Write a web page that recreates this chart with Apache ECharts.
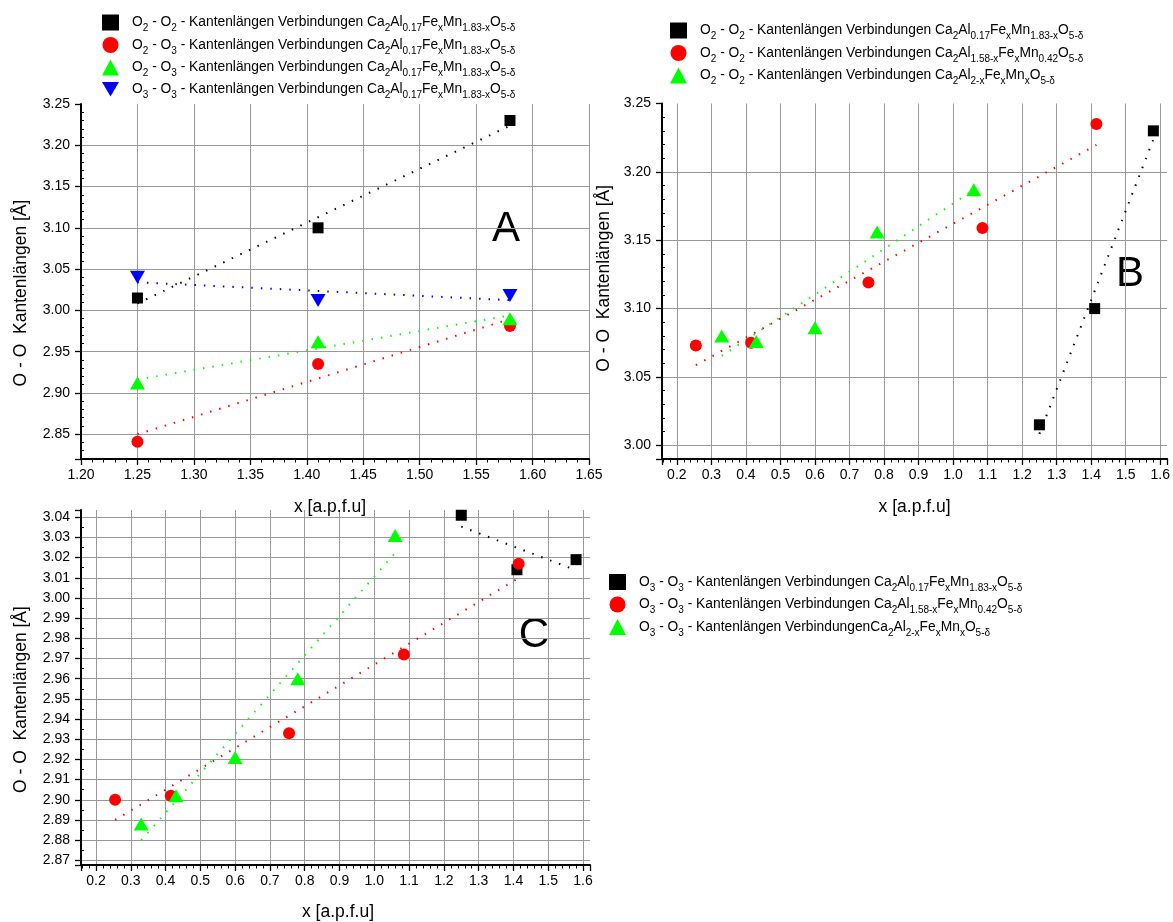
<!DOCTYPE html>
<html>
<head>
<meta charset="utf-8">
<script src="https://cdn.jsdelivr.net/npm/echarts@6/dist/echarts.min.js"></script>
<style>
html, body { margin: 0; padding: 0; background: #ffffff; }
#chart { width: 1173px; height: 922px; }
</style>
</head>
<body>
<div id="chart"></div>
<script>
// x positions (a.p.f.u) of the three compound series
const X_AL017 = [1.25, 1.41, 1.58];
const X_MN042 = [0.255, 0.415, 0.755, 1.085, 1.415];
const X_ALMN = [0.33, 0.43, 0.60, 0.78, 1.06];

// Panel A: edge lengths [Å] in Ca2Al0.17FexMn1.83-xO5-δ
const A_O2O2 = [3.015, 3.100, 3.230];
const A_O2O3_I = [2.841, 2.935, 2.981];
const A_O2O3_II = [2.912, 2.962, 2.990];
const A_O3O3 = [3.040, 3.012, 3.018];

// Panel B: O2 - O2 edge lengths [Å]
const B_AL017 = [3.015, 3.100, 3.230];
const B_MN042 = [3.073, 3.075, 3.119, 3.159, 3.235];
const B_ALMN = [3.080, 3.076, 3.086, 3.156, 3.187];

// Panel C: O3 - O3 edge lengths [Å]
const C_AL017 = [3.041, 3.014, 3.019];
const C_MN042 = [2.900, 2.902, 2.933, 2.972, 3.017];
const C_ALMN = [2.888, 2.902, 2.921, 2.960, 3.031];

// Legend texts; _{...} marks a subscript
const LABELS = {
  A1: 'O_{2} - O_{2} - Kantenlängen Verbindungen Ca_{2}Al_{0.17}Fe_{x}Mn_{1.83-x}O_{5-δ}',
  A2: 'O_{2} - O_{3} - Kantenlängen Verbindungen Ca_{2}Al_{0.17}Fe_{x}Mn_{1.83-x}O_{5-δ}',
  A3: 'O_{2} - O_{3} - Kantenlängen Verbindungen Ca_{2}Al_{0.17}Fe_{x}Mn_{1.83-x}O_{5-δ}',
  A4: 'O_{3} - O_{3} - Kantenlängen Verbindungen Ca_{2}Al_{0.17}Fe_{x}Mn_{1.83-x}O_{5-δ}',
  B1: 'O_{2} - O_{2} - Kantenlängen Verbindungen Ca_{2}Al_{0.17}Fe_{x}Mn_{1.83-x}O_{5-δ}',
  B2: 'O_{2} - O_{2} - Kantenlängen Verbindungen Ca_{2}Al_{1.58-x}Fe_{x}Mn_{0.42}O_{5-δ}',
  B3: 'O_{2} - O_{2} - Kantenlängen Verbindungen Ca_{2}Al_{2-x}Fe_{x}Mn_{x}O_{5-δ}',
  C1: 'O_{3} - O_{3} - Kantenlängen Verbindungen Ca_{2}Al_{0.17}Fe_{x}Mn_{1.83-x}O_{5-δ}',
  C2: 'O_{3} - O_{3} - Kantenlängen Verbindungen Ca_{2}Al_{1.58-x}Fe_{x}Mn_{0.42}O_{5-δ}',
  C3: 'O_{3} - O_{3} - Kantenlängen VerbindungenCa_{2}Al_{2-x}Fe_{x}Mn_{x}O_{5-δ}'
};

const X_NAME = 'x [a.p.f.u]';
const Y_NAME = 'O - O  Kantenlängen [Å]';

const FONT = '"Liberation Sans", Arial, sans-serif';
const BLACK = '#000000', RED = '#ff0000', GREEN = '#00ff00', BLUE = '#0000ff';

// downward pointing triangle for legend icons
const DOWN_TRIANGLE = 'path://M0,0L2,0L1,1.7Z';

function toRich(s) {
  return s.split(/_\{([^}]*)\}/).map(function (part, i) {
    if (part === '') return '';
    return i % 2 ? '{s|' + part + '}' : '{n|' + part + '}';
  }).join('');
}

function onStep(v, step) {
  const k = v / step;
  return Math.abs(k - Math.round(k)) < 1e-6;
}

function pairs(xs, ys) {
  return xs.map(function (x, i) { return [x, ys[i]]; });
}

// least-squares straight line through a series, drawn over its x range
function fitLine(xs, ys) {
  const n = xs.length;
  const mx = xs.reduce(function (a, b) { return a + b; }, 0) / n;
  const my = ys.reduce(function (a, b) { return a + b; }, 0) / n;
  let sxx = 0, sxy = 0;
  for (let i = 0; i < n; i++) {
    sxx += (xs[i] - mx) * (xs[i] - mx);
    sxy += (xs[i] - mx) * (ys[i] - my);
  }
  const k = sxy / sxx;
  const x0 = Math.min.apply(null, xs), x1 = Math.max.apply(null, xs);
  return [[x0, my + k * (x0 - mx)], [x1, my + k * (x1 - mx)]];
}

const SYM = {
  square: { symbol: 'rect', size: 11, rotate: 0 },
  circle: { symbol: 'circle', size: 12, rotate: 0 },
  up: { symbol: 'triangle', size: [15, 13], rotate: 0 },
  down: { symbol: 'triangle', size: [15, 13], rotate: 180 }
};

function scatter(name, g, xs, ys, shape, color) {
  const s = SYM[shape];
  return {
    type: 'scatter', name: name, xAxisIndex: g, yAxisIndex: g,
    data: pairs(xs, ys), symbol: s.symbol, symbolSize: s.size, symbolRotate: s.rotate,
    itemStyle: { color: color, opacity: 1 }, z: 3,
    emphasis: { disabled: true }, silent: true
  };
}

function fit(g, xs, ys, color) {
  return {
    type: 'line', xAxisIndex: g, yAxisIndex: g, data: fitLine(xs, ys),
    symbol: 'none', showSymbol: false, z: 2, silent: true,
    lineStyle: { color: color, width: 2, type: [1.5, 8] },
    emphasis: { disabled: true }
  };
}

function axis(isX, o) {
  return {
    type: 'value', gridIndex: o.grid, position: isX ? 'bottom' : 'left',
    min: o.min, max: o.max, minInterval: o.step, maxInterval: o.step,
    splitNumber: Math.round((o.max - o.min) / o.step),
    name: o.name, nameLocation: 'middle', nameGap: o.nameGap,
    nameTextStyle: { fontSize: 17.5, fontFamily: FONT, color: '#000', padding: o.namePad || 0 },
    axisLine: { show: true, onZero: false, lineStyle: { color: '#000', width: 2 } },
    axisTick: { show: true, inside: false, length: 6, lineStyle: { color: '#000', width: 1.3 } },
    minorTick: { show: true, splitNumber: o.minor, length: isX ? 3.5 : -3, lineStyle: { color: '#000', width: 1 } },
    axisLabel: {
      fontSize: 14, fontFamily: FONT, color: '#000', margin: isX ? 9 : 11,
      hideOverlap: false, showMinLabel: true, showMaxLabel: true,
      formatter: function (v) { return onStep(v, o.step) ? v.toFixed(o.dec) : ''; }
    },
    splitLine: { show: true, showMinLine: false, showMaxLine: !!o.maxLine,
      lineStyle: { color: '#999999', width: 1 } },
    minorSplitLine: { show: false }
  };
}

function legend(items, left, top) {
  return {
    orient: 'vertical', left: left, top: top, padding: 0, itemGap: 3.5,
    itemWidth: 17, itemHeight: 16, selectedMode: false, data: items,
    formatter: function (n) { return toRich(LABELS[n]); },
    textStyle: {
      padding: [0, 0, 0, 8],
      rich: {
        n: { fontSize: 13.8, fontFamily: FONT, color: '#000', lineHeight: 22, verticalAlign: 'middle' },
        s: { fontSize: 10, fontFamily: FONT, color: '#000', lineHeight: 10, verticalAlign: 'bottom' }
      }
    }
  };
}

function letter(ch, x, y) {
  return {
    type: 'text', x: x, y: y, silent: true,
    style: { text: ch, fontSize: 42, fontFamily: FONT, fill: '#000', align: 'center', verticalAlign: 'middle' }
  };
}

const option = {
  backgroundColor: '#ffffff',
  animation: false,
  grid: [
    { left: 81, top: 104, width: 508, height: 355 },
    { left: 662, top: 103.5, width: 508, height: 355.5 },
    { left: 81, top: 510, width: 509, height: 355.7 }
  ],
  xAxis: [
    axis(true, { grid: 0, min: 1.20, max: 1.65, step: 0.05, minor: 5, dec: 2, maxLine: true,
      name: X_NAME, nameGap: 39.5, namePad: [0, 10, 0, 0] }),
    axis(true, { grid: 1, min: 0.157, max: 1.62, step: 0.1, minor: 5, dec: 1,
      name: X_NAME, nameGap: 39 }),
    axis(true, { grid: 2, min: 0.157, max: 1.62, step: 0.1, minor: 5, dec: 1,
      name: X_NAME, nameGap: 38, namePad: [0, 0, 0, 5] })
  ],
  yAxis: [
    axis(false, { grid: 0, min: 2.82, max: 3.25, step: 0.05, minor: 5, dec: 2,
      name: Y_NAME, nameGap: 51, namePad: [0, 23, 0, 0] }),
    axis(false, { grid: 1, min: 2.99, max: 3.25, step: 0.05, minor: 5, dec: 2,
      name: Y_NAME, nameGap: 49, namePad: [0, 0, 0, 6] }),
    axis(false, { grid: 2, min: 2.8677, max: 3.0436, step: 0.01, minor: 2, dec: 2,
      name: Y_NAME, nameGap: 50.5, namePad: [0, 24, 0, 0] })
  ],
  legend: [
    legend(['A1', 'A2', 'A3', { name: 'A4', icon: DOWN_TRIANGLE }], 102, 14.5),
    legend(['B1', 'B2', 'B3'], 670, 22.5),
    legend(['C1', 'C2', 'C3'], 609, 574)
  ],
  graphic: [
    letter('A', 506, 229),
    letter('B', 1130, 274),
    letter('C', 534, 635)
  ],
  series: [
    fit(0, X_AL017, A_O2O2, BLACK),
    fit(0, X_AL017, A_O2O3_I, RED),
    fit(0, X_AL017, A_O2O3_II, GREEN),
    fit(0, X_AL017, A_O3O3, BLUE),
    scatter('A1', 0, X_AL017, A_O2O2, 'square', BLACK),
    scatter('A2', 0, X_AL017, A_O2O3_I, 'circle', RED),
    scatter('A3', 0, X_AL017, A_O2O3_II, 'up', GREEN),
    scatter('A4', 0, X_AL017, A_O3O3, 'down', BLUE),

    fit(1, X_AL017, B_AL017, BLACK),
    fit(1, X_MN042, B_MN042, RED),
    fit(1, X_ALMN, B_ALMN, GREEN),
    scatter('B1', 1, X_AL017, B_AL017, 'square', BLACK),
    scatter('B2', 1, X_MN042, B_MN042, 'circle', RED),
    scatter('B3', 1, X_ALMN, B_ALMN, 'up', GREEN),

    fit(2, X_AL017, C_AL017, BLACK),
    fit(2, X_MN042, C_MN042, RED),
    fit(2, X_ALMN, C_ALMN, GREEN),
    scatter('C1', 2, X_AL017, C_AL017, 'square', BLACK),
    scatter('C2', 2, X_MN042, C_MN042, 'circle', RED),
    scatter('C3', 2, X_ALMN, C_ALMN, 'up', GREEN)
  ]
};

const chart = echarts.init(document.getElementById('chart'), null, { renderer: 'canvas' });
chart.setOption(option);
</script>
</body>
</html>
